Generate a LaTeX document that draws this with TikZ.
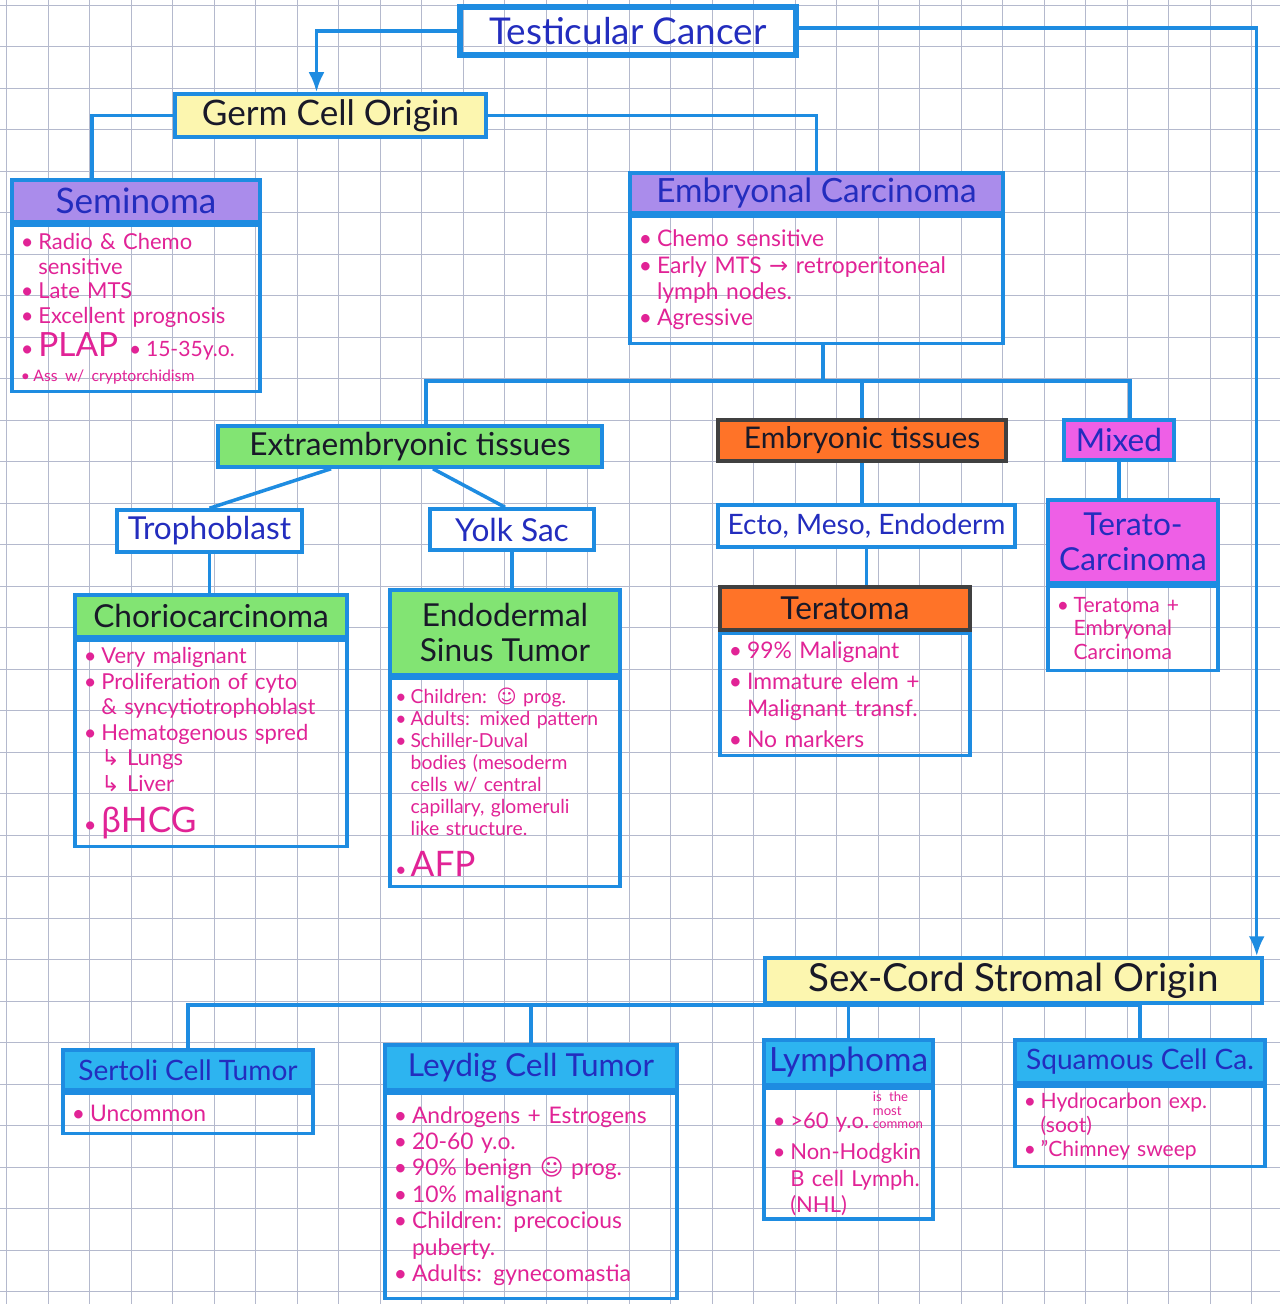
\documentclass[tikz,border=0pt]{standalone}
\usepackage{fontspec}
\setmainfont{Lato}
\newfontfamily\symb{DejaVu Sans}
\usepackage{xcolor}
\usetikzlibrary{arrows.meta, positioning}
\definecolor{penblue}{RGB}{30,140,225}
\definecolor{inkblue}{RGB}{35,45,190}
\definecolor{inkblack}{RGB}{25,25,40}
\definecolor{inkpink}{RGB}{225,35,150}
\definecolor{hlpurple}{RGB}{170,140,235}
\definecolor{hlyellow}{RGB}{252,246,175}
\definecolor{hlgreen}{RGB}{130,228,115}
\definecolor{hlorange}{RGB}{255,115,40}
\definecolor{hlmagenta}{RGB}{238,95,230}
\definecolor{hlcyan}{RGB}{45,180,240}
\definecolor{gridgray}{RGB}{180,185,205}

\newcommand{\fsz}[2]{\fontsize{#1}{#2}\selectfont}
\newcommand{\itm}{\makebox[0.8em][l]{\textbullet}}
\newcommand{\ind}{\hspace*{0.8em}}

\tikzset{
    box/.style={draw=penblue, line width=2pt, align=center},
    head/.style={box, inner sep=1pt, text=inkblue, font=\fsz{18}{20}},
    body/.style={box, anchor=north, align=left, inner xsep=5pt, inner ysep=2pt,
        text=inkpink, font=\fsz{13}{15}},
    conn/.style={draw=penblue, line width=2pt},
    tip/.style={-{Latex[length=0.4cm, width=0.32cm]}},
    gridline/.style={draw=gridgray, line width=0.4pt}
}

\begin{document}
\begin{tikzpicture}[x=0.02cm, y=-0.02cm]
    \useasboundingbox (0,0) rectangle (1280,1304);

    % Graph paper
    \fill[white] (0,0) rectangle (1280,1304);
    \foreach \k in {0,...,30} {
        \draw[gridline] (6.5+41.5*\k,0) -- (6.5+41.5*\k,1304);
        \draw[gridline] (0,5+41.5*\k) -- (1280,5+41.5*\k);
    }
    \draw[gridline] (0,1291.5) -- (1280,1291.5);

    % Top level
    \node[head, line width=3.5pt, minimum width=6.72cm, minimum height=0.96cm,
        font=\fsz{21}{24}] (title) at (628,31) {Testicular Cancer};
    \node[head, fill=hlyellow, text=inkblack, minimum width=6.22cm, minimum height=0.86cm,
        font=\fsz{20}{22}] (germ) at (330.5,115.5) {Germ Cell Origin};
    \node[head, fill=hlyellow, text=inkblack, minimum width=9.94cm, minimum height=0.9cm,
        font=\fsz{22}{24}] (sexcord) at (1013.5,980.5) {Sex-Cord Stromal Origin};

    % Germ cell origin
    \node[head, fill=hlpurple, minimum width=4.96cm, minimum height=0.84cm,
        font=\fsz{20}{22}] (sem) at (136,201) {Seminoma};
    \node[body, below=0pt of sem, text width=4.61cm, minimum height=3.32cm,
        font=\fsz{12.5}{14}] (semtxt) {%
        \itm Radio \& Chemo\\
        \ind sensitive\\
        \itm Late MTS\\
        \itm Excellent prognosis\\[2pt]
        \itm {\fsz{19}{21}PLAP}\enspace{\fsz{12}{14}\itm 15-35y.o.}\\
        {\fsz{9}{10}\itm Ass w/ cryptorchidism}};

    \node[head, fill=hlpurple, minimum width=7.46cm, minimum height=0.8cm,
        font=\fsz{19}{21}] (emb) at (816.5,193) {Embryonal Carcinoma};
    \node[body, below=0pt of emb, text width=7.11cm, minimum height=2.54cm] (embtxt) {%
        \itm Chemo sensitive\\
        \itm Early MTS {\symb →} retroperitoneal\\
        \ind lymph nodes.\\
        \itm Agressive};

    % Tissue groups
    \node[head, fill=hlgreen, text=inkblack, minimum width=7.68cm, minimum height=0.82cm]
        (extra) at (410,446.5) {Extraembryonic tissues};
    \node[head, fill=hlorange, draw=black!75, text=inkblack, minimum width=5.76cm,
        minimum height=0.82cm, font=\fsz{17}{19}] (embr) at (862,440.5) {Embryonic tissues};
    \node[head, fill=hlmagenta, minimum width=2.2cm, minimum height=0.8cm]
        (mixed) at (1119,440) {Mixed};

    \node[head, fill=white, minimum width=3.7cm, minimum height=0.84cm]
        (troph) at (209.5,531) {Trophoblast};
    \node[head, fill=white, minimum width=3.28cm, minimum height=0.82cm]
        (yolk) at (512,529.5) {Yolk Sac};
    \node[head, fill=white, minimum width=5.94cm, minimum height=0.84cm,
        font=\fsz{16}{18}] (ecto) at (866.5,526) {Ecto, Meso, Endoderm};

    % Tumours
    \node[head, fill=hlgreen, text=inkblack, minimum width=5.44cm, minimum height=0.84cm]
        (chorio) at (211,616) {Choriocarcinoma};
    \node[body, below=0pt of chorio, text width=5.09cm, minimum height=4.12cm,
        font=\fsz{12.5}{14.5}] (choriotxt) {%
        \itm Very malignant\\
        \itm Proliferation of cyto\\
        \ind \& syncytiotrophoblast\\
        \itm Hematogenous spred\\
        \ind{\symb ↳} Lungs\\
        \ind{\symb ↳} Liver\\[8pt]
        \itm {\fsz{20}{22}βHCG}};

    \node[head, fill=hlgreen, text=inkblack, minimum width=4.6cm, minimum height=1.7cm]
        (endo) at (505,632.5) {Endodermal\\ Sinus Tumor};
    \node[body, below=0pt of endo, text width=4.39cm, inner xsep=3pt, minimum height=4.16cm,
        font=\fsz{11}{12.5}] (endotxt) {%
        \itm Children: {\symb ☺} prog.\\
        \itm Adults: mixed pattern\\
        \itm Schiller-Duval\\
        \ind bodies (mesoderm\\
        \ind cells w/ central\\
        \ind capillary, glomeruli\\
        \ind like structure.\\[8pt]
        \itm {\fsz{20}{22}AFP}};

    \node[head, fill=hlorange, draw=black!75, text=inkblack, minimum width=5cm,
        minimum height=0.86cm] (terat) at (845,608.5) {Teratoma};
    \node[body, below=0pt of terat, text width=4.65cm, minimum height=2.44cm] (terattxt) {%
        \itm 99\% Malignant\\[3pt]
        \itm Immature elem +\\
        \ind Malignant transf.\\[3pt]
        \itm No markers};

    \node[head, fill=hlmagenta, minimum width=3.4cm, minimum height=1.66cm]
        (tcarc) at (1133,541.5) {Terato-\\ Carcinoma};
    \node[body, below=0pt of tcarc, text width=3.05cm, minimum height=1.68cm,
        font=\fsz{12}{13.5}] (tcarctxt) {%
        \itm Teratoma +\\
        \ind Embryonal\\
        \ind Carcinoma};

    % Sex-cord stromal origin
    \node[head, fill=hlcyan, minimum width=5cm, minimum height=0.8cm,
        font=\fsz{16}{18}] (sert) at (188,1070) {Sertoli Cell Tumor};
    \node[body, below=0pt of sert, text width=4.65cm, minimum height=0.8cm] (serttxt) {%
        \itm Uncommon};

    \node[head, fill=hlcyan, minimum width=5.84cm, minimum height=0.9cm]
        (leyd) at (531,1067.5) {Leydig Cell Tumor};
    \node[body, below=0pt of leyd, text width=5.49cm, minimum height=4.1cm] (leydtxt) {%
        \itm Androgens + Estrogens\\
        \itm 20-60 y.o.\\
        \itm 90\% benign {\symb ☺} prog.\\
        \itm 10\% malignant\\
        \itm Children: precocious\\
        \ind puberty.\\
        \itm Adults: gynecomastia};

    \node[head, fill=hlcyan, minimum width=3.38cm, minimum height=0.9cm,
        font=\fsz{19}{21}] (lymph) at (848.5,1062.5) {Lymphoma};
    \node[body, below=0pt of lymph, text width=3.03cm, minimum height=2.5cm,
        font=\fsz{12.5}{15}] (lymphtxt) {%
        \itm >60 y.o.\,{\fsz{7.5}{7.5}\shortstack[l]{is the\\most\\common}}\\[3pt]
        \itm Non-Hodgkin\\
        \ind B cell Lymph.\\
        \ind (NHL)};

    \node[head, fill=hlcyan, minimum width=5cm, minimum height=0.86cm,
        font=\fsz{16}{18}] (squam) at (1140,1061.5) {Squamous Cell Ca.};
    \node[body, below=0pt of squam, text width=4.65cm, minimum height=1.6cm,
        font=\fsz{12}{13.5}] (squamtxt) {%
        \itm Hydrocarbon exp.\\
        \ind (soot)\\
        \itm "Chimney sweep};

    % Connectors
    \draw[conn, tip] (title.west) -| ([xshift=-0.28cm]germ.north);
    \draw[conn, tip] ([yshift=0.06cm]title.east) -| ([xshift=-0.14cm]sexcord.north east);
    \draw[conn] (germ.west) -| ([xshift=-0.88cm]sem.north);
    \draw[conn] (germ.east) -| (emb.north);

    \coordinate (split) at (823,381);
    \draw[conn] (embtxt.south -| split) -- (split);
    \draw[conn] ([xshift=0.32cm]extra.north) |- (split) -| ([xshift=0.22cm]mixed.north);
    \draw[conn] (embr.north) -- (embr.north |- split);

    \draw[conn] ([xshift=-1.58cm]extra.south) -- (troph.north);
    \draw[conn] ([xshift=0.46cm]extra.south) -- ([xshift=-0.14cm]yolk.north);
    \foreach \a/\b in {troph/chorio, yolk/endo, embr/ecto, ecto/terat, mixed/tcarc}
        \draw[conn] (\a.south) -- (\a.south |- \b.north);

    \draw[conn] (sert.north) |- (sexcord.south) -| (squam.north);
    \foreach \b in {leyd, lymph}
        \draw[conn] (\b.north) -- (\b.north |- sexcord.south);
\end{tikzpicture}
\end{document}
